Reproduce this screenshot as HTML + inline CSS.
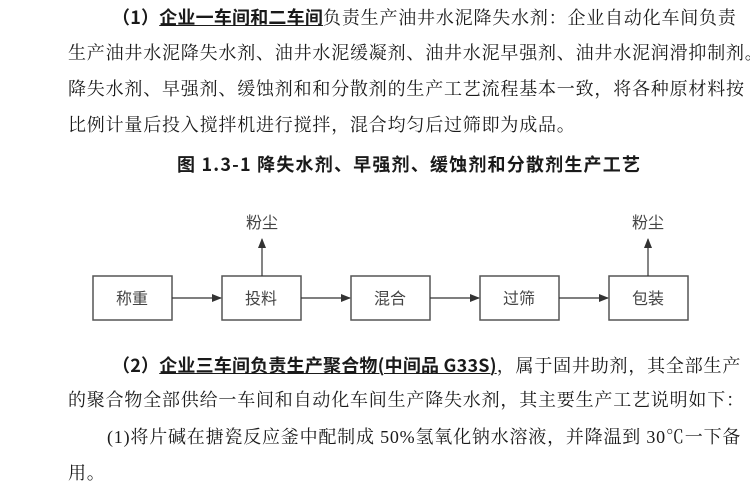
<!DOCTYPE html>
<html><head><meta charset="utf-8"><style>
body{margin:0;width:750px;height:487px;background:#fff;position:relative;overflow:hidden;font-family:"Liberation Serif","Noto Serif CJK SC",serif;color:#1a1a1a}
.l{position:absolute;font-size:18px;letter-spacing:0.8px;white-space:nowrap;line-height:20px}
b{font-weight:bold;font-family:"Noto Sans CJK SC",sans-serif;letter-spacing:0.2px}
u{text-decoration:underline;text-decoration-thickness:1px;text-underline-offset:1px}
.cap{position:absolute;left:177px;top:151px;font-size:18px;font-weight:bold;white-space:nowrap;letter-spacing:1.2px;font-family:"Noto Sans CJK SC",sans-serif}
svg{position:absolute;left:0;top:0}
svg text{font-family:"Liberation Sans","Noto Sans CJK SC",sans-serif;font-size:16px;fill:#444}
</style></head><body>
<div class="l" style="left:112px;top:7px"><b>（1）<u>企业一车间和二车间</u></b>负责生产油井水泥降失水剂：企业自动化车间负责</div>
<div class="l" style="left:68px;top:43px">生产油井水泥降失水剂、油井水泥缓凝剂、油井水泥早强剂、油井水泥润滑抑制剂。</div>
<div class="l" style="left:68px;top:79px">降失水剂、早强剂、缓蚀剂和和分散剂的生产工艺流程基本一致，将各种原材料按</div>
<div class="l" style="left:68px;top:115px">比例计量后投入搅拌机进行搅拌，混合均匀后过筛即为成品。</div>
<div class="cap">图 1.3-1 降失水剂、早强剂、缓蚀剂和分散剂生产工艺</div>
<svg width="750" height="487">
<defs><marker id="a" markerWidth="10" markerHeight="8" refX="9" refY="4" orient="auto" markerUnits="userSpaceOnUse"><path d="M0,0L10,4L0,8z" fill="#333"/></marker></defs>
<g fill="none" stroke="#555" stroke-width="1.5">
<rect x="93" y="276" width="79" height="44"/>
<rect x="222" y="276" width="79" height="44"/>
<rect x="351" y="276" width="79" height="44"/>
<rect x="480" y="276" width="79" height="44"/>
<rect x="609" y="276" width="79" height="44"/>
</g>
<g stroke="#333" stroke-width="1.2" marker-end="url(#a)">
<line x1="172" y1="298" x2="221" y2="298"/>
<line x1="301" y1="298" x2="350" y2="298"/>
<line x1="430" y1="298" x2="479" y2="298"/>
<line x1="559" y1="298" x2="608" y2="298"/>
<line x1="262" y1="276" x2="262" y2="239"/>
<line x1="648" y1="276" x2="648" y2="239"/>
</g>
<g text-anchor="middle">
<text x="132" y="304">称重</text>
<text x="261" y="304">投料</text>
<text x="390" y="304">混合</text>
<text x="519" y="304">过筛</text>
<text x="648" y="304">包装</text>
<text x="262" y="228" font-size="14">粉尘</text>
<text x="648" y="228" font-size="14">粉尘</text>
</g>
</svg>
<div class="l" style="left:112px;top:355px"><b>（2）<u>企业三车间负责生产聚合物(中间品 G33S)</u></b>，属于固井助剂，其全部生产</div>
<div class="l" style="left:68px;top:390px">的聚合物全部供给一车间和自动化车间生产降失水剂，其主要生产工艺说明如下：</div>
<div class="l" style="left:107px;top:427px">(1)将片碱在搪瓷反应釜中配制成 50%氢氧化钠水溶液，并降温到 30℃一下备</div>
<div class="l" style="left:68px;top:463px">用。</div>
</body></html>
